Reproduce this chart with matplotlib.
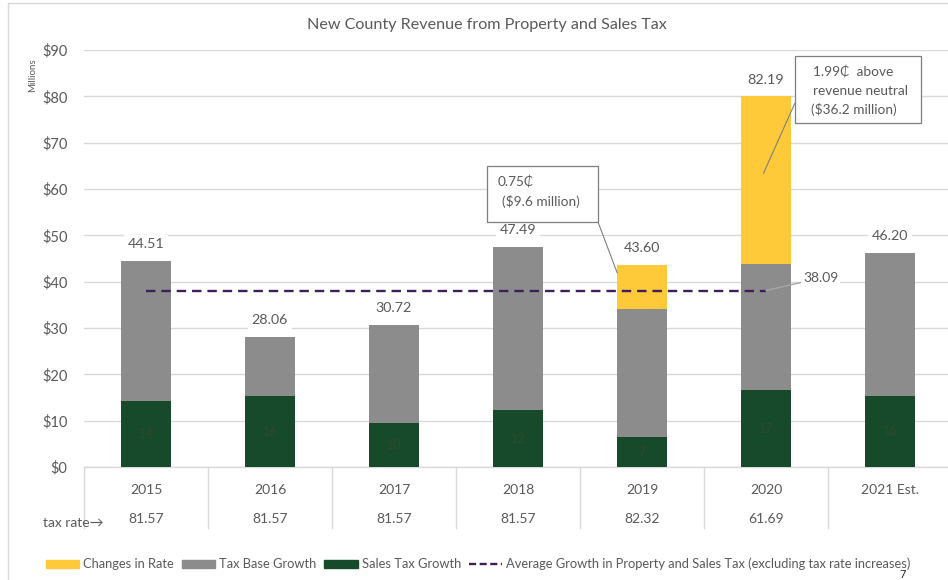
import numpy as np
import matplotlib
matplotlib.use("Agg")
import matplotlib.pyplot as plt
from matplotlib.patches import Patch, Rectangle
from matplotlib.lines import Line2D

plt.rcParams['font.family'] = ['Lato', 'DejaVu Sans']

# data (millions of dollars)
years = ['2015', '2016', '2017', '2018', '2019', '2020', '2021 Est.']
tax_rates = ['81.57', '81.57', '81.57', '81.57', '82.32', '61.69', '']
sales_tax = [14.2, 15.3, 9.5, 12.3, 6.5, 16.6, 15.4]
tax_base = [30.3, 12.8, 21.2, 35.2, 27.5, 27.2, 30.8]
rate_change = [0, 0, 0, 0, 9.6, 36.2, 0]
total_labels = ['44.51', '28.06', '30.72', '47.49', '43.60', '82.19', '46.20']
sales_labels = ['14', '16', '10', '12', '7', '17', '16']
avg_growth = 38.09

YELLOW = '#FFCA3A'
GRAY = '#8C8C8C'
GREEN = '#174A2B'
PURPLE = '#3E1F5C'
TXT = '#595959'
GRID = '#D9D9D9'

W, H = 948, 580
fig = plt.figure(figsize=(W / 100, H / 100), dpi=100)


def fx(px):
    return px / W


def fy(py):
    return 1 - py / H


# outer frame of the chart
fig.add_artist(Rectangle((fx(8), fy(590)), 1.0, fy(3) - fy(590), transform=fig.transFigure,
                         fill=False, edgecolor=GRID, lw=1.0))

ax = fig.add_axes([fx(84), fy(467), 868 / W, (467 - 50) / H])
x = np.arange(len(years))
bw = 0.4

ax.bar(x, sales_tax, bw, color=GREEN, zorder=3)
ax.bar(x, tax_base, bw, bottom=sales_tax, color=GRAY, zorder=3)
bottom2 = np.array(sales_tax) + np.array(tax_base)
ax.bar(x, rate_change, bw, bottom=bottom2, color=YELLOW, zorder=3)
tops = bottom2 + np.array(rate_change)

ax.plot([0, 5], [avg_growth, avg_growth], color=PURPLE, lw=1.7, dashes=(4, 2.5), zorder=4)

ax.set_xlim(-0.5, 6.5)
ax.set_ylim(0, 90)
ax.set_yticks(np.arange(0, 91, 10))
ax.set_yticklabels([f'${v}' for v in range(0, 91, 10)], fontsize=10.5, color=TXT)
ax.tick_params(axis='y', length=0, pad=12)
ax.set_xticks([])
ax.grid(axis='y', color=GRID, lw=1.0, zorder=0)
for s in ['top', 'right', 'left']:
    ax.spines[s].set_visible(False)
ax.spines['bottom'].set_color(GRID)
ax.spines['bottom'].set_linewidth(1.0)

# totals above the bars
for xi, top, lab in zip(x, tops, total_labels):
    ax.annotate(lab, (xi, top), xytext=(0, 12), textcoords='offset points',
                ha='center', va='center', fontsize=10.3, color=TXT, zorder=5,
                bbox=dict(boxstyle='square,pad=0.25', fc='white', ec='none'))

# sales tax values inside the green segments (barely visible)
for xi, v, lab in zip(x, sales_tax, sales_labels):
    ax.text(xi, v / 2, lab, ha='center', va='center', fontsize=9, color='#2c4b2c', zorder=5)

# table below the axis
trans = ax.get_xaxis_transform()
for i in range(len(years) + 1):
    ax.plot([i - 0.5, i - 0.5], [0, -61 / 417], transform=trans, color=GRID, lw=1.0,
            clip_on=False)
for xi, yr, tr in zip(x, years, tax_rates):
    ax.text(xi, -23 / 417, yr, transform=trans, ha='center', va='center', fontsize=10, color=TXT)
    ax.text(xi, -52 / 417, tr, transform=trans, ha='center', va='center', fontsize=10, color=TXT)
fig.text(fx(43), fy(523), 'tax rate\u2192', ha='left', va='center', fontsize=10, color=TXT)

# average line label
ax.annotate('38.09', (5, avg_growth), xytext=(803, H - 278), textcoords='figure pixels',
            ha='left', va='center', fontsize=10, color=TXT, zorder=6,
            bbox=dict(boxstyle='square,pad=0.15', fc='white', ec='none'),
            arrowprops=dict(arrowstyle='-', color='#A6A6A6', lw=1.0, shrinkA=0, shrinkB=0))

# callout boxes
fig.add_artist(Rectangle((fx(487), fy(222)), fx(598) - fx(487), fy(166) - fy(222),
                         transform=fig.transFigure, fc='white', ec='#7F7F7F', lw=0.9, zorder=6))
fig.text(fx(498), fy(182), '0.75\u20b5', ha='left', va='center', fontsize=9.8, color=TXT, zorder=7)
fig.text(fx(502), fy(202), '($9.6 million)', ha='left', va='center', fontsize=9.8, color=TXT, zorder=7)
ax.annotate('', (3.80, 41.9), xytext=(598, H - 222), textcoords='figure pixels',
            arrowprops=dict(arrowstyle='-', color='#7F7F7F', lw=0.8, shrinkA=0, shrinkB=0))

fig.add_artist(Rectangle((fx(795), fy(123)), fx(921) - fx(795), fy(56) - fy(123),
                         transform=fig.transFigure, fc='white', ec='#7F7F7F', lw=0.9, zorder=6))
fig.text(fx(813), fy(72), '1.99\u20b5  above', ha='left', va='center', fontsize=9.8, color=TXT, zorder=7)
fig.text(fx(813), fy(91), 'revenue neutral', ha='left', va='center', fontsize=9.8, color=TXT, zorder=7)
fig.text(fx(811), fy(110), '($36.2 million)', ha='left', va='center', fontsize=9.8, color=TXT, zorder=7)
ax.annotate('', (4.98, 63.4), xytext=(795, H - 103), textcoords='figure pixels',
            arrowprops=dict(arrowstyle='-', color='#7F7F7F', lw=0.8, shrinkA=0, shrinkB=0))

# titles
fig.text(fx(487), fy(25), 'New County Revenue from Property and Sales Tax', ha='center', va='center',
         fontsize=11.6, color=TXT)
fig.text(fx(33), fy(75), 'Millions', rotation=90, ha='center', va='center', fontsize=7, color=TXT)

# legend
handles = [Patch(color=YELLOW), Patch(color=GRAY), Patch(color=GREEN),
           Line2D([], [], color=PURPLE, lw=1.7, dashes=(3, 1.5))]
labels = ['Changes in Rate', 'Tax Base Growth', 'Sales Tax Growth',
          'Average Growth in Property and Sales Tax (excluding tax rate increases)']
fig.legend(handles, labels, loc='center', bbox_to_anchor=(fx(478), fy(564)), ncol=4, frameon=False,
           fontsize=9.3, handlelength=2.6, handleheight=0.6, handletextpad=0.3, columnspacing=0.6,
           labelcolor=TXT)

fig.text(fx(903), fy(574), '7', ha='center', va='center', fontsize=8, color='#222222')

fig.savefig('out.png', dpi=100)
